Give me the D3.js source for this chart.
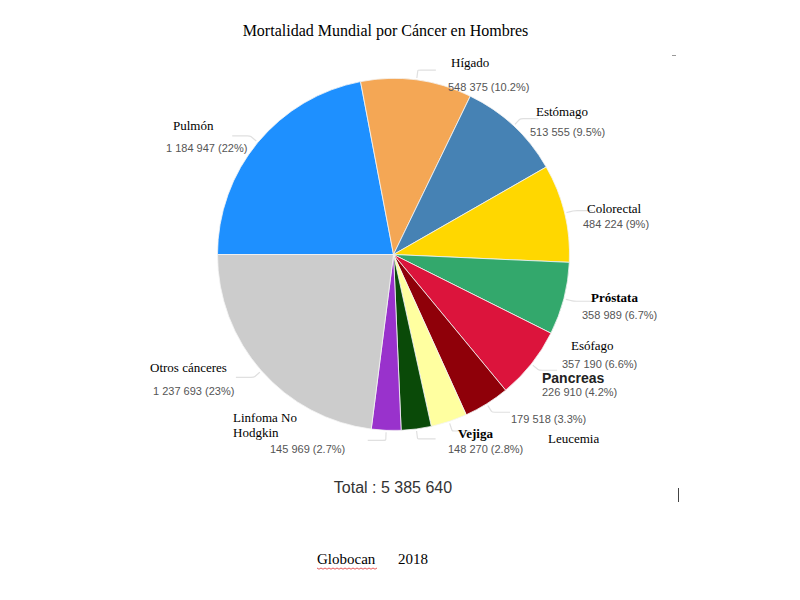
<!DOCTYPE html>
<html>
<head>
<meta charset="utf-8">
<script src="https://cdn.jsdelivr.net/npm/d3@7"></script>
<style>
  body { margin: 0; background: #fff; }
</style>
</head>
<body>
<div id="chart"></div>
<script>
const categories = ["Pulmón", "Hígado", "Estómago", "Colorectal", "Próstata", "Esófago",
  "Pancreas", "Leucemia", "Vejiga", "Linfoma No Hodgkin", "Otros cánceres"];
const deaths = [1184947, 548375, 513555, 484224, 358989, 357190, 226910, 179518, 148270, 145969, 1237693];
const percentLabels = ["22%", "10.2%", "9.5%", "9%", "6.7%", "6.6%", "4.2%", "3.3%", "2.8%", "2.7%", "23%"];
const colors = ["#1e90ff", "#f4a755", "#4682b4", "#ffd700", "#33a86c", "#dc143c",
  "#8f0009", "#ffffa0", "#0a4a08", "#9932cc", "#cccccc"];

// label layout: name x, name centre y, value x, value centre y
const labelLayout = [
  [173, 125, 166, 148],
  [451, 62, 448, 87],
  [536, 111, 530, 132],
  [587, 208, 583, 224],
  [591, 297, 582, 315],
  [571, 345, 562, 364],
  [542, 378, 542, 392],
  [548, 438, 511, 419],
  [458, 433, 448, 449],
  [233, 417, 270, 449],
  [150, 367, 153, 391]
];

const width = 800, height = 600;
const cx = 393.5, cy = 254.5, radius = 176;

const fmt = d3.formatLocale({ decimal: ".", thousands: " ", grouping: [3], currency: ["", ""] }).format(",");

const svg = d3.select("#chart")
  .append("svg")
  .attr("width", width)
  .attr("height", height);

const pie = d3.pie()
  .sort(null)
  .startAngle(-Math.PI / 2)
  .endAngle(Math.PI * 1.5)
  .value(d => d);

const arcs = pie(deaths);

const arc = d3.arc().innerRadius(0).outerRadius(radius);

const g = svg.append("g").attr("transform", `translate(${cx},${cy})`);

g.selectAll("path.slice")
  .data(arcs)
  .enter()
  .append("path")
  .attr("class", "slice")
  .attr("d", arc)
  .attr("fill", (d, i) => colors[i])
  .attr("stroke", "#f4f4f4")
  .attr("stroke-width", 0.8);

// leader lines
const pt = (a, r) => [Math.sin(a) * r, -Math.cos(a) * r];
const leader = d3.line().curve(d3.curveBasis);

g.selectAll("path.leader")
  .data(arcs)
  .enter()
  .append("path")
  .attr("class", "leader")
  .attr("fill", "none")
  .attr("stroke", "#e0e0e0")
  .attr("stroke-width", 1.2)
  .attr("d", d => {
    const a = (d.startAngle + d.endAngle) / 2;
    const p1 = pt(a, radius + 2);
    const p2 = pt(a, radius + 10);
    const dir = Math.sin(a) >= 0 ? 1 : -1;
    const p3 = [p2[0] + dir * 18, p2[1]];
    return leader([p1, p2, p2, p3]);
  });

// labels
const names = svg.append("g");
categories.forEach((name, i) => {
  const [nx, ny, vx, vy] = labelLayout[i];
  const t = names.append("text")
    .attr("x", nx)
    .attr("y", ny + 4.5)
    .attr("fill", "#000")
    .style("font-family", "'Liberation Serif', 'Times New Roman', serif")
    .style("font-size", "13px");
  if (name === "Pancreas") {
    t.style("font-family", "'Liberation Sans', Arial, sans-serif")
      .style("font-size", "14px")
      .style("font-weight", "bold")
      .attr("fill", "#222")
      .text(name);
  } else if (name === "Próstata" || name === "Vejiga") {
    t.style("font-weight", "bold").text(name);
  } else if (name === "Linfoma No Hodgkin") {
    t.append("tspan").attr("x", nx).text("Linfoma No");
    t.append("tspan").attr("x", nx).attr("dy", 15).text("Hodgkin");
  } else {
    t.text(name);
  }
  names.append("text")
    .attr("x", vx)
    .attr("y", vy + 4)
    .attr("fill", "#555")
    .style("font-family", "'Liberation Sans', Arial, sans-serif")
    .style("font-size", "11px")
    .text(`${fmt(deaths[i])} (${percentLabels[i]})`);
});

// title
svg.append("text")
  .attr("x", 385.5)
  .attr("y", 36)
  .attr("text-anchor", "middle")
  .style("font-family", "'Liberation Serif', 'Times New Roman', serif")
  .style("font-size", "16px")
  .text("Mortalidad Mundial por Cáncer en Hombres");

// total
svg.append("text")
  .attr("x", 393)
  .attr("y", 493)
  .attr("text-anchor", "middle")
  .attr("fill", "#333")
  .style("font-family", "'Liberation Sans', Arial, sans-serif")
  .style("font-size", "16px")
  .text("Total : " + fmt(d3.sum(deaths)));

// source
svg.append("text")
  .attr("x", 317)
  .attr("y", 564)
  .style("font-family", "'Liberation Serif', 'Times New Roman', serif")
  .style("font-size", "15px")
  .text("Globocan");
svg.append("text")
  .attr("x", 398)
  .attr("y", 564)
  .style("font-family", "'Liberation Serif', 'Times New Roman', serif")
  .style("font-size", "15px")
  .text("2018");

// spellcheck squiggle under Globocan
const squiggle = d3.range(0, 62, 2).map((x, i) => [317 + x, 568 + (i % 2 ? 1.2 : 0)]);
svg.append("path")
  .attr("d", d3.line()(squiggle))
  .attr("fill", "none")
  .attr("stroke", "#e03030")
  .attr("stroke-width", 0.8);

// small page artefacts
svg.append("line")
  .attr("x1", 678.5).attr("x2", 678.5)
  .attr("y1", 488).attr("y2", 502)
  .attr("stroke", "#444").attr("stroke-width", 1);
svg.append("line")
  .attr("x1", 672).attr("x2", 676)
  .attr("y1", 55.5).attr("y2", 55.5)
  .attr("stroke", "#999").attr("stroke-width", 1);
</script>
</body>
</html>
